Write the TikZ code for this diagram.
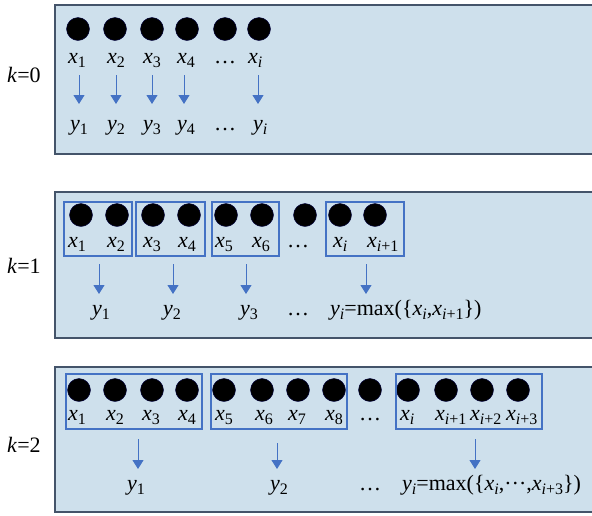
\documentclass[tikz,border=0pt]{standalone}
\usepackage{fontspec}
\setmainfont{Liberation Serif}
\usetikzlibrary{arrows.meta}
\definecolor{panelfill}{HTML}{CEE0EC}
\definecolor{paneledge}{HTML}{44546A}
\definecolor{accent}{HTML}{4472C4}
\newcommand\sbs[1]{\raisebox{-0.2em}{\fontsize{16}{16}\selectfont #1}}
\newcommand\vx[1]{\textit{x}\sbs{#1}}
\newcommand\vy[1]{\textit{y}\sbs{#1}}
\newcommand\ii{\textit{i}}
\newcommand\cdts{\raisebox{0.25em}{\dots}}
\begin{document}
\begin{tikzpicture}[x=1pt,y=-1pt, font=\fontsize{22}{26}\selectfont,
 panel/.style={draw=paneledge,line width=2pt,fill=panelfill},
 dot/.style={circle,fill=black,draw=black!75!blue,inner sep=0pt,minimum size=23pt},
 lbl/.style={anchor=base west,inner sep=0pt},
 ctr/.style={anchor=base,inner sep=0pt},
 grp/.style={draw=accent,line width=1.3pt},
 arr/.style={draw=accent,line width=1pt,-{Triangle[width=11pt,length=9pt]}}]
\useasboundingbox (0,0) rectangle (592,515);

% panels
\draw[panel] (55,5) rectangle (600,154);
\draw[panel] (55,192) rectangle (600,338);
\draw[panel] (55,367) rectangle (600,512);

% k labels
\node[lbl] (k0) at (7,82) {\textit{k}=0};
\node[lbl] (k1) at (7,273) {\textit{k}=1};
\node[lbl] (k2) at (7,452) {\textit{k}=2};

% ---- panel k=0
\foreach \x [count=\n] in {78,115,152,187,225,259}
  \node[dot] (a\n) at (\x,29) {};
\node[lbl] (ax1) at (68,63) {\vx{1}};
\node[lbl] (ax2) at (107,63) {\vx{2}};
\node[lbl] (ax3) at (143,63) {\vx{3}};
\node[lbl] (ax4) at (177,63) {\vx{4}};
\node[ctr] (axd) at (225,63) {\dots};
\node[lbl] (axi) at (248,63) {\vx{\ii}};
\node[lbl] (ay1) at (70,130) {\vy{1}};
\node[lbl] (ay2) at (107,130) {\vy{2}};
\node[lbl] (ay3) at (143,130) {\vy{3}};
\node[lbl] (ay4) at (177,130) {\vy{4}};
\node[ctr] (ayd) at (225,130) {\dots};
\node[lbl] (ayi) at (253,130) {\vy{\ii}};
\foreach \x [count=\n] in {79,116,152,184,258}{
  \coordinate (as\n) at (\x,75);
  \coordinate (ae\n) at (\x,104);
  \draw[arr] (as\n) -- (ae\n);
}

% ---- panel k=1
\foreach \x [count=\n] in {81,117,153,189,226,262,305,340,375}
  \node[dot] (b\n) at (\x,215) {};
\draw[grp] (64,202) rectangle (132,256);
\draw[grp] (136,202) rectangle (205,256);
\draw[grp] (212,202) rectangle (279,256);
\draw[grp] (326,202) rectangle (404,256);
\node[lbl] (bx1) at (68,247) {\vx{1}};
\node[lbl] (bx2) at (107,247) {\vx{2}};
\node[lbl] (bx3) at (143,247) {\vx{3}};
\node[lbl] (bx4) at (178,247) {\vx{4}};
\node[lbl] (bx5) at (215,247) {\vx{5}};
\node[lbl] (bx6) at (252,247) {\vx{6}};
\node[ctr] (bxd) at (298,247) {\dots};
\node[lbl] (bxi) at (333,247) {\vx{\ii}};
\node[lbl] (bxj) at (367,247) {\vx{\ii+1}};
\node[lbl] (by1) at (92,315) {\vy{1}};
\node[lbl] (by2) at (163,315) {\vy{2}};
\node[lbl] (by3) at (240,315) {\vy{3}};
\node[ctr] (byd) at (298,315) {\dots};
\node[lbl] (byi) at (330,315) {\vy{\ii}=max(\{\vx{\ii},\vx{\ii+1}\})};
\foreach \x [count=\n] in {99,173,246,366}{
  \coordinate (bs\n) at (\x,264);
  \coordinate (be\n) at (\x,294);
  \draw[arr] (bs\n) -- (be\n);
}

% ---- panel k=2
\foreach \x [count=\n] in {79,115,152,187,224,262,298,334,370,408,446,482,518}
  \node[dot] (c\n) at (\x,390) {};
\draw[grp] (66,374) rectangle (202,429);
\draw[grp] (211,374) rectangle (347,429);
\draw[grp] (396,374) rectangle (542,429);
\node[lbl] (cx1) at (68,420) {\vx{1}};
\node[lbl] (cx2) at (106,420) {\vx{2}};
\node[lbl] (cx3) at (142,420) {\vx{3}};
\node[lbl] (cx4) at (178,420) {\vx{4}};
\node[lbl] (cx5) at (215,420) {\vx{5}};
\node[lbl] (cx6) at (255,420) {\vx{6}};
\node[lbl] (cx7) at (288,420) {\vx{7}};
\node[lbl] (cx8) at (325,420) {\vx{8}};
\node[ctr] (cxd) at (370,420) {\dots};
\node[lbl] (cxi) at (400,420) {\vx{\ii}};
\node[lbl] (cxj) at (435,420) {\vx{\ii+1}};
\node[lbl] (cxk) at (470,420) {\vx{\ii+2}};
\node[lbl] (cxl) at (506,420) {\vx{\ii+3}};
\node[lbl] (cy1) at (127,490) {\vy{1}};
\node[lbl] (cy2) at (270,490) {\vy{2}};
\node[ctr] (cyd) at (370,490) {\dots};
\node[lbl] (cyi) at (402,490) {\vy{\ii}=max(\{\vx{\ii},\cdts,\vx{\ii+3}\})};
\foreach \x/\t [count=\n] in {138/439,277/443,475/439}{
  \coordinate (cs\n) at (\x,\t);
  \coordinate (ce\n) at (\x,469);
  \draw[arr] (cs\n) -- (ce\n);
}
\end{tikzpicture}
\end{document}
